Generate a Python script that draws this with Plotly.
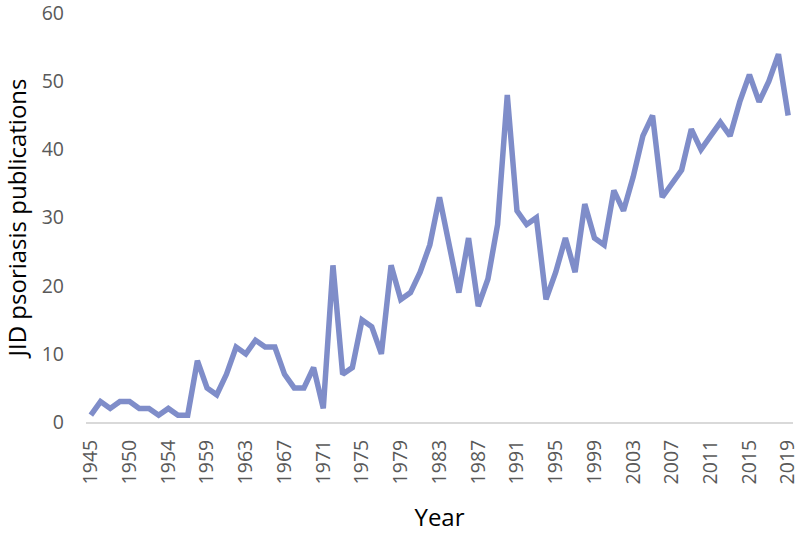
import plotly.graph_objects as go

years = ["1945", "1947", "1948", "1949", "1950", "1951", "1952", "1953", "1954",
         "1956", "1957", "1958"] + [str(y) for y in range(1959, 2020)]
publications = [1, 3, 2, 3, 3, 2, 2, 1, 2, 1, 1, 9,
                5, 4, 7, 11, 10, 12, 11, 11, 7, 5, 5, 8,
                2, 23, 7, 8, 15, 14, 10, 23, 18, 19, 22, 26,
                33, 26, 19, 27, 17, 21, 29, 48, 31, 29, 30, 18,
                22, 27, 22, 32, 27, 26, 34, 31, 36, 42, 45, 33,
                35, 37, 43, 40, 42, 44, 42, 47, 51, 47, 50, 54, 45]
tick_labels = years[::4]
y_ticks = [0, 10, 20, 30, 40, 50, 60]

fig = go.Figure(go.Scatter(
    x=years, y=publications, mode="lines",
    line=dict(color="#7F8DC9", width=5.5),
))

font = "Open Sans"
fig.update_layout(
    width=800, height=533,
    margin=dict(l=86, r=7, t=13, b=111),
    paper_bgcolor="white", plot_bgcolor="white",
    showlegend=False,
    xaxis=dict(
        type="category", range=[-0.5, len(years) - 0.5], automargin=False,
        tickmode="array", tickvals=tick_labels, ticktext=tick_labels,
        tickangle=-90, tickfont=dict(family=font, size=19.5, color="#595959"),
        ticklabelstandoff=8,
        showgrid=False, showline=True, linecolor="#D9D9D9", linewidth=2,
        ticks="", zeroline=False,
        title=dict(text="Year", font=dict(family=font, size=24, color="#000000"), standoff=28),
    ),
    yaxis=dict(
        range=[0, 60.05], tickvals=y_ticks, automargin=False,
        tickfont=dict(family=font, size=19.5, color="#595959"),
        showgrid=False, showline=False, zeroline=False, ticks="",
        ticklabelstandoff=21, ticklabeloverflow="allow",
        title=dict(text="JID psoriasis publications", font=dict(family=font, size=24, color="#000000"), standoff=10),
    ),
)
fig.write_html("out.html", config={"displayModeBar": False},
               post_script="document.body.style.margin='0';")
